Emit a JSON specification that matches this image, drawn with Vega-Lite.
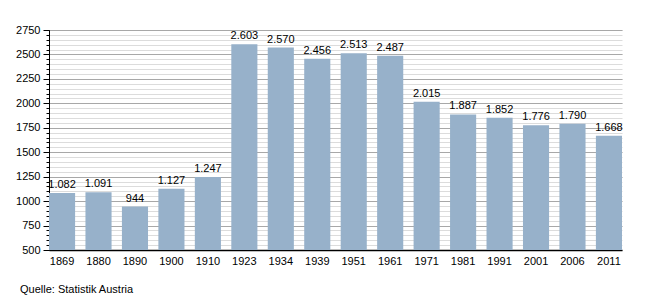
{
  "$schema": "https://vega.github.io/schema/vega-lite/v6.json",
  "width": 573,
  "height": 220,
  "autosize": {"type": "none"},
  "padding": {"left": 49, "top": 30, "right": 28, "bottom": 50},
  "background": "white",
  "data": {"values": [
    {"jahr": "1869", "einwohner": 1082, "label": "1.082"},
    {"jahr": "1880", "einwohner": 1091, "label": "1.091"},
    {"jahr": "1890", "einwohner": 944, "label": "944"},
    {"jahr": "1900", "einwohner": 1127, "label": "1.127"},
    {"jahr": "1910", "einwohner": 1247, "label": "1.247"},
    {"jahr": "1923", "einwohner": 2603, "label": "2.603"},
    {"jahr": "1934", "einwohner": 2570, "label": "2.570"},
    {"jahr": "1939", "einwohner": 2456, "label": "2.456"},
    {"jahr": "1951", "einwohner": 2513, "label": "2.513"},
    {"jahr": "1961", "einwohner": 2487, "label": "2.487"},
    {"jahr": "1971", "einwohner": 2015, "label": "2.015"},
    {"jahr": "1981", "einwohner": 1887, "label": "1.887"},
    {"jahr": "1991", "einwohner": 1852, "label": "1.852"},
    {"jahr": "2001", "einwohner": 1776, "label": "1.776"},
    {"jahr": "2006", "einwohner": 1790, "label": "1.790"},
    {"jahr": "2011", "einwohner": 1668, "label": "1.668"}
  ]},
  "title": {
    "text": "Quelle: Statistik Austria",
    "orient": "bottom",
    "anchor": "start",
    "frame": "group",
    "dx": -29,
    "offset": 18,
    "fontSize": 11,
    "fontWeight": "normal",
    "font": "Liberation Sans",
    "color": "#000"
  },
  "config": {
    "view": {"stroke": null},
    "axis": {"labelFont": "Liberation Sans", "labelFontSize": 11, "labelColor": "#000"},
    "text": {"font": "Liberation Sans"}
  },
  "encoding": {
    "x": {
      "field": "jahr", "type": "nominal", "sort": null,
      "scale": {"paddingInner": 0.284, "paddingOuter": 0},
      "axis": {"title": null, "labelAngle": 0, "ticks": false, "domainColor": "#000", "domainWidth": 1.5, "labelPadding": 5, "grid": false}
    }
  },
  "layer": [
    {
      "mark": {"type": "bar", "color": "#97b1ca"},
      "encoding": {
        "y": {
          "field": "einwohner", "type": "quantitative",
          "scale": {"domain": [500, 2750], "nice": false, "zero": false},
          "axis": {
            "orient": "left", "title": null, "labels": false, "domain": false,
            "values": [500,550,600,650,700,750,800,850,900,950,1000,1050,1100,1150,1200,1250,1300,1350,1400,1450,1500,1550,1600,1650,1700,1750,1800,1850,1900,1950,2000,2050,2100,2150,2200,2250,2300,2350,2400,2450,2500,2550,2600,2650,2700,2750],
            "tickSize": 3, "tickColor": "#000", "grid": true, "gridColor": "#dcdcdc", "gridWidth": 1
          }
        },
        "y2": {"datum": 500}
      }
    },
    {
      "mark": {"type": "text", "baseline": "bottom", "dy": -3, "fontSize": 11, "color": "#000"},
      "encoding": {
        "y": {
          "field": "einwohner", "type": "quantitative",
          "axis": {
            "orient": "left", "title": null, "format": "d",
            "values": [500, 750, 1000, 1250, 1500, 1750, 2000, 2250, 2500, 2750],
            "tickSize": 6, "tickColor": "#000", "domainColor": "#000", "labelPadding": 3,
            "grid": true, "gridColor": "#a8a8a8", "gridWidth": 1
          }
        },
        "text": {"field": "label"}
      }
    }
  ],
  "resolve": {"axis": {"y": "independent"}}
}
